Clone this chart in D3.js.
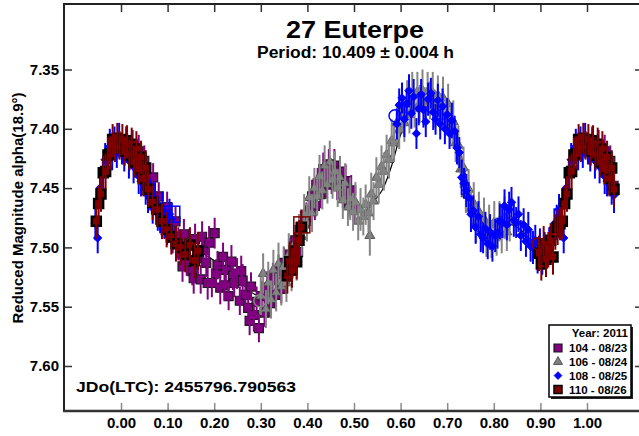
<!DOCTYPE html>
<html>
<head>
<meta charset="utf-8">
<script src="https://cdn.jsdelivr.net/npm/d3@7"></script>
<style>
  html, body { margin: 0; padding: 0; background: #fff; }
  svg { display: block; }
  text { font-family: "Liberation Sans", Arial, sans-serif; font-weight: bold; fill: #000; }
</style>
</head>
<body>
<svg id="chart" width="639" height="436"></svg>
<script>
// ---- chart text ----
const titleText = "27 Euterpe";
const periodText = "Period: 10.409 \u00b1 0.004 h";
const epochText = "JDo(LTC): 2455796.790563";
const yLabelText = "Reduced Magnitude alpha(18.9\u00b0)";
const legendTitle = "Year: 2011";

// ---- axis ticks ----
const xTicks = [0.0, 0.1, 0.2, 0.3, 0.4, 0.5, 0.6, 0.7, 0.8, 0.9, 1.0];
const yTicks = [7.35, 7.40, 7.45, 7.50, 7.55, 7.60];

// ---- sessions ----
const sessionIds = ["104", "106", "108", "110"];
const sessionLabels = ["104 - 08/23", "106 - 08/24", "108 - 08/25", "110 - 08/26"];

// observations: [phase, reduced magnitude, error]
const obs104 = [
  [0.004,7.418,0.012],[0.011,7.410,0.012],[0.018,7.423,0.012],[0.025,7.414,0.013],
  [0.031,7.429,0.012],[0.038,7.419,0.014],[0.044,7.436,0.012],[0.050,7.427,0.013],
  [0.057,7.448,0.012],[0.063,7.455,0.014],[0.069,7.441,0.012],[0.075,7.468,0.013],
  [0.081,7.457,0.012],[0.087,7.476,0.014],[0.093,7.481,0.012],[0.099,7.466,0.013],
  [0.105,7.483,0.012],[0.111,7.492,0.013],[0.117,7.478,0.012],[0.123,7.497,0.014],
  [0.129,7.505,0.012],[0.132,7.516,0.013],[0.135,7.489,0.013],[0.141,7.512,0.012],
  [0.147,7.498,0.014],[0.153,7.520,0.012],[0.156,7.526,0.013],[0.159,7.493,0.013],
  [0.165,7.509,0.014],[0.171,7.527,0.012],[0.174,7.491,0.013],[0.177,7.502,0.013],
  [0.183,7.513,0.012],[0.186,7.530,0.014],[0.189,7.496,0.014],[0.195,7.530,0.012],
  [0.201,7.488,0.013],[0.204,7.522,0.012],[0.207,7.515,0.012],[0.213,7.534,0.014],
  [0.219,7.508,0.012],[0.222,7.532,0.013],[0.225,7.519,0.013],[0.231,7.541,0.012],
  [0.237,7.512,0.014],[0.240,7.524,0.012],[0.243,7.530,0.012],[0.249,7.522,0.013],
  [0.255,7.545,0.012],[0.258,7.520,0.013],[0.261,7.528,0.014],[0.267,7.540,0.012],
  [0.273,7.551,0.013],[0.276,7.562,0.012],[0.279,7.533,0.012],[0.285,7.557,0.014],
  [0.291,7.546,0.013],[0.296,7.568,0.012],[0.302,7.541,0.013],[0.308,7.555,0.012],
  [0.314,7.534,0.014],[0.320,7.547,0.012],[0.326,7.526,0.013],[0.332,7.540,0.012],
  [0.338,7.520,0.014],[0.344,7.535,0.012],[0.350,7.513,0.013],[0.356,7.523,0.012],
  [0.362,7.506,0.014],[0.368,7.514,0.012],[0.374,7.494,0.013],[0.380,7.504,0.012],
  [0.386,7.483,0.014],[0.392,7.480,0.012],[0.398,7.475,0.013],[0.404,7.469,0.012],
  [0.410,7.457,0.014],[0.416,7.465,0.012],[0.422,7.446,0.013],[0.428,7.455,0.012],
  [0.434,7.434,0.014],[0.440,7.447,0.012],[0.446,7.430,0.013],[0.452,7.443,0.012],
  [0.458,7.431,0.014],[0.464,7.448,0.012],[0.470,7.436,0.013],[0.476,7.455,0.012],
  [0.482,7.444,0.014],[0.488,7.463,0.012],[0.494,7.452,0.013],[0.500,7.468,0.012]
];

const obs106 = [
  [0.300,7.541,0.016],[0.305,7.522,0.017],[0.311,7.552,0.016],[0.316,7.530,0.018],
  [0.322,7.544,0.016],[0.327,7.519,0.017],[0.333,7.538,0.016],[0.338,7.514,0.018],
  [0.344,7.533,0.016],[0.349,7.516,0.017],[0.355,7.530,0.016],[0.360,7.506,0.018],
  [0.366,7.521,0.016],[0.371,7.498,0.017],[0.377,7.512,0.016],[0.382,7.490,0.018],
  [0.388,7.491,0.016],[0.393,7.472,0.017],[0.399,7.479,0.016],[0.404,7.458,0.018],
  [0.410,7.471,0.016],[0.415,7.450,0.017],[0.421,7.457,0.016],[0.426,7.440,0.018],
  [0.432,7.452,0.016],[0.437,7.431,0.017],[0.443,7.447,0.016],[0.448,7.428,0.018],
  [0.454,7.443,0.016],[0.459,7.436,0.017],[0.465,7.450,0.016],[0.470,7.441,0.018],
  [0.476,7.460,0.016],[0.481,7.446,0.017],[0.487,7.466,0.016],[0.492,7.459,0.018],
  [0.498,7.470,0.016],[0.503,7.462,0.017],[0.509,7.478,0.016],[0.514,7.468,0.018],
  [0.520,7.474,0.016],[0.525,7.464,0.017],[0.531,7.471,0.016],[0.534,7.490,0.017],
  [0.537,7.455,0.018],[0.542,7.461,0.016],[0.548,7.441,0.017],[0.553,7.447,0.016],
  [0.559,7.432,0.018],[0.564,7.436,0.016],[0.570,7.422,0.017],[0.575,7.426,0.016],
  [0.581,7.410,0.018],[0.586,7.412,0.016],[0.592,7.395,0.017],[0.597,7.401,0.016],
  [0.603,7.384,0.018],[0.608,7.395,0.016],[0.614,7.376,0.017],[0.619,7.388,0.016],
  [0.625,7.370,0.018],[0.630,7.383,0.016],[0.636,7.369,0.017],[0.641,7.379,0.016],
  [0.647,7.368,0.018],[0.652,7.381,0.016],[0.658,7.369,0.017],[0.663,7.376,0.016],
  [0.669,7.370,0.018],[0.674,7.383,0.016],[0.680,7.372,0.017],[0.685,7.386,0.016],
  [0.691,7.374,0.018],[0.696,7.390,0.016],[0.702,7.379,0.017],[0.707,7.397,0.016],
  [0.713,7.394,0.018],[0.718,7.412,0.016],[0.724,7.414,0.017],[0.729,7.434,0.016],
  [0.735,7.433,0.018],[0.740,7.455,0.016],[0.746,7.451,0.017],[0.751,7.467,0.016],
  [0.757,7.463,0.018],[0.762,7.480,0.016],[0.768,7.470,0.017],[0.773,7.486,0.016],
  [0.779,7.476,0.018],[0.784,7.492,0.016],[0.790,7.481,0.017],[0.795,7.493,0.016],
  [0.801,7.479,0.018],[0.806,7.491,0.016],[0.812,7.478,0.017],[0.817,7.489,0.016],
  [0.823,7.475,0.018],[0.828,7.487,0.016],[0.834,7.478,0.017]
];

const obs108 = [
  [0.592,7.396,0.013],[0.597,7.380,0.014],[0.603,7.374,0.013],[0.608,7.392,0.015],
  [0.613,7.379,0.013],[0.618,7.368,0.014],[0.623,7.387,0.013],[0.628,7.373,0.015],
  [0.634,7.404,0.013],[0.639,7.383,0.014],[0.644,7.371,0.013],[0.649,7.384,0.015],
  [0.654,7.394,0.013],[0.659,7.375,0.014],[0.665,7.370,0.013],[0.670,7.386,0.015],
  [0.675,7.392,0.013],[0.680,7.376,0.014],[0.685,7.396,0.013],[0.690,7.381,0.015],
  [0.695,7.400,0.013],[0.700,7.388,0.014],[0.705,7.404,0.013],[0.710,7.393,0.015],
  [0.716,7.402,0.013],[0.721,7.416,0.014],[0.726,7.420,0.013],[0.731,7.441,0.015],
  [0.736,7.446,0.013],[0.741,7.452,0.014],[0.746,7.458,0.013],[0.751,7.472,0.015],
  [0.756,7.469,0.013],[0.761,7.483,0.014],[0.767,7.474,0.013],[0.772,7.489,0.015],
  [0.777,7.492,0.013],[0.782,7.484,0.014],[0.787,7.497,0.013],[0.792,7.487,0.015],
  [0.797,7.499,0.013],[0.803,7.490,0.014],[0.808,7.488,0.013],[0.813,7.478,0.015],
  [0.818,7.479,0.013],[0.823,7.465,0.014],[0.828,7.481,0.013],[0.833,7.468,0.015],
  [0.838,7.462,0.013],[0.843,7.477,0.014],[0.848,7.479,0.013],[0.853,7.472,0.015],
  [0.858,7.490,0.013],[0.864,7.481,0.014],[0.869,7.495,0.013],[0.874,7.485,0.015],
  [0.879,7.499,0.013],[0.884,7.500,0.014],[0.889,7.494,0.013],[0.894,7.507,0.015],
  [0.899,7.497,0.013],[0.904,7.509,0.014],[0.909,7.500,0.013],[0.914,7.505,0.013],
  [0.919,7.496,0.013],[0.925,7.493,0.014],[0.930,7.480,0.013],[0.935,7.479,0.015],
  [0.940,7.468,0.013],[0.945,7.480,0.014],[0.950,7.492,0.013],[0.955,7.450,0.015],
  [0.961,7.439,0.013],[0.966,7.426,0.014],[0.971,7.427,0.013],[0.976,7.415,0.015],
  [0.981,7.422,0.013],[0.986,7.412,0.014],[0.991,7.420,0.013],[0.996,7.410,0.015],
  [0.002,7.417,0.013],[0.007,7.422,0.014],[0.012,7.413,0.013],[0.017,7.427,0.015],
  [0.022,7.418,0.013],[0.027,7.432,0.014],[0.033,7.428,0.013],[0.038,7.440,0.015],
  [0.043,7.444,0.013],[0.048,7.437,0.014],[0.053,7.451,0.013],[0.058,7.456,0.015],
  [0.063,7.455,0.013],[0.068,7.466,0.014],[0.073,7.458,0.013],[0.079,7.471,0.015],
  [0.084,7.475,0.013],[0.089,7.467,0.014],[0.094,7.479,0.013],[0.099,7.483,0.015],
  [0.104,7.472,0.013],[0.109,7.476,0.014]
];

const obs110 = [
  [0.897,7.505,0.015],[0.902,7.514,0.014],[0.907,7.497,0.015],[0.912,7.510,0.015],
  [0.917,7.502,0.015],[0.922,7.494,0.014],[0.927,7.508,0.015],[0.932,7.487,0.015],
  [0.937,7.483,0.015],[0.942,7.480,0.014],[0.947,7.478,0.015],[0.952,7.463,0.015],
  [0.957,7.455,0.015],[0.962,7.437,0.014],[0.967,7.436,0.015],[0.972,7.422,0.015],
  [0.977,7.421,0.013],[0.982,7.409,0.013],[0.987,7.416,0.012],[0.992,7.408,0.013],
  [0.997,7.414,0.012],[0.003,7.409,0.013],[0.008,7.419,0.012],[0.013,7.410,0.013],
  [0.018,7.422,0.013],[0.023,7.413,0.014],[0.028,7.428,0.013],[0.033,7.417,0.015],
  [0.038,7.434,0.013],[0.043,7.424,0.014],[0.048,7.442,0.015],[0.053,7.433,0.015],
  [0.058,7.451,0.015],[0.068,7.462,0.015],[0.078,7.468,0.015],[0.088,7.478,0.015],
  [0.098,7.485,0.015],[0.108,7.491,0.015],[0.118,7.497,0.015],[0.128,7.500,0.015],
  [0.138,7.506,0.015],[0.148,7.498,0.015],[0.158,7.511,0.015],[0.165,7.503,0.016],
  [0.357,7.524,0.015],[0.362,7.512,0.017],[0.367,7.519,0.015],[0.372,7.503,0.016],
  [0.377,7.512,0.015],[0.382,7.494,0.017],[0.387,7.483,0.015]
];

// first and last observation of a night, marked with open symbols
const nightMarks = [
  ["106", "first", 0.298, 7.545],
  ["108", "first", 0.588, 7.389],
  ["108", "last", 0.109, 7.472],
  ["110", "first", 0.895, 7.497],
  ["110", "last", 0.388, 7.481]
];

// Fourier fit of the composite lightcurve: phase and magnitude
const fitPhase = [0.00,0.02,0.04,0.06,0.08,0.10,0.12,0.14,0.16,0.18,0.20,0.22,0.24,0.26,0.28,0.30,0.32,0.34,0.36,0.38,0.40,0.42,0.44,0.46,0.48,0.50,0.52,0.54,0.56,0.58,0.60,0.62,0.64,0.66,0.68,0.70,0.72,0.74,0.76,0.78,0.80,0.82,0.84,0.86,0.88,0.90,0.92,0.94,0.96,0.98];
const fitMag = [7.411,7.416,7.425,7.440,7.459,7.475,7.487,7.495,7.501,7.506,7.511,7.516,7.523,7.531,7.538,7.541,7.535,7.526,7.515,7.500,7.477,7.456,7.442,7.438,7.449,7.463,7.470,7.462,7.452,7.432,7.405,7.387,7.378,7.375,7.378,7.386,7.405,7.440,7.466,7.481,7.486,7.482,7.481,7.486,7.494,7.500,7.497,7.474,7.445,7.420];

// ---- styling per night ----
const nightStyle = {
  "104": { color: "#800080", shape: "square", fill: "#800080", stroke: "#1a1a1a", sw: 1.2, size: 9 },
  "106": { color: "#858585", shape: "triangle", fill: "#808080", stroke: "#3c3c3c", sw: 0.8, size: 10 },
  "108": { color: "#0000ff", shape: "diamond", fill: "#0000ff", stroke: "#0000ff", sw: 0.8, size: 6 },
  "110": { color: "#800000", shape: "square", fill: "#800000", stroke: "#000000", sw: 2.5, size: 9 }
};
const observations = { "104": obs104, "106": obs106, "108": obs108, "110": obs110 };

// ---- geometry ----
const frame = { left: 64, top: 4, right: 643, bottom: 411 };
const x = d3.scaleLinear().domain([0, 1]).range([121, 587]);
const y = d3.scaleLinear().domain([7.35, 7.60]).range([69.5, 366]);

const svg = d3.select("#chart");
svg.append("rect").attr("width", 639).attr("height", 436).attr("fill", "#fff");

svg.append("defs").append("clipPath").attr("id", "plotClip")
  .append("rect")
  .attr("x", frame.left).attr("y", frame.top)
  .attr("width", frame.right - frame.left).attr("height", frame.bottom - frame.top);

// repeat the ends of the cycle on either side of phase 0..1
function folded(rows) {
  const out = [];
  rows.forEach(r => {
    out.push(r);
    if (r[0] < 0.06) out.push([r[0] + 1, ...r.slice(1)]);
    if (r[0] > 0.944) out.push([r[0] - 1, ...r.slice(1)]);
  });
  return out;
}

function symbolPath(shape, size) {
  if (shape === "triangle") return d3.symbol(d3.symbolTriangle, Math.sqrt(3) / 4 * size * size)();
  return d3.symbol(d3.symbolSquare, size * size)();
}
function symbolTransform(shape, px, py) {
  return shape === "diamond" ? `translate(${px},${py}) rotate(45)` : `translate(${px},${py})`;
}

const plot = svg.append("g").attr("clip-path", "url(#plotClip)");

// fit curve under the data
const fitRows = folded(fitPhase.map((p, i) => [p, fitMag[i]]))
  .filter(r => r[0] >= -0.06 && r[0] <= 1.06)
  .sort((a, b) => a[0] - b[0]);
plot.append("path")
  .attr("d", d3.line().x(d => x(d[0])).y(d => y(d[1])).curve(d3.curveCatmullRom)(fitRows))
  .attr("fill", "none").attr("stroke", "#000").attr("stroke-width", 1.2);

// observations, night by night
sessionIds.forEach(id => {
  const st = nightStyle[id];
  const rows = folded(observations[id]);
  const g = plot.append("g");
  g.selectAll("path.mark").data(rows).enter().append("path")
    .attr("class", "mark")
    .attr("d", symbolPath(st.shape, st.size))
    .attr("transform", d => symbolTransform(st.shape, x(d[0]), y(d[1])))
    .attr("fill", st.fill).attr("stroke", st.stroke).attr("stroke-width", st.sw);
  g.selectAll("line.err").data(rows).enter().append("line")
    .attr("class", "err")
    .attr("x1", d => x(d[0])).attr("x2", d => x(d[0]))
    .attr("y1", d => y(d[1] - d[2])).attr("y2", d => y(d[1] + d[2]))
    .attr("stroke", st.color).attr("stroke-width", 2);
  nightMarks.filter(m => m[0] === id).forEach(m => {
    if (m[1] === "first") {
      g.append("circle").attr("cx", x(m[2])).attr("cy", y(m[3])).attr("r", 6)
        .attr("fill", "none").attr("stroke", st.color).attr("stroke-width", 1.5);
    } else {
      g.append("rect").attr("x", x(m[2]) - 8).attr("y", y(m[3]) - 8)
        .attr("width", 16).attr("height", 16)
        .attr("fill", "none").attr("stroke", st.color).attr("stroke-width", 1.5);
    }
  });
});

// ---- axes (ticks point inward) ----
const fmt = d3.format(".2f");
const bottomAxis = svg.append("g").attr("transform", `translate(0,${frame.bottom})`)
  .call(d3.axisBottom(x).tickValues(xTicks).tickSize(-8).tickPadding(6).tickFormat(fmt));
const topAxis = svg.append("g").attr("transform", `translate(0,${frame.top})`)
  .call(d3.axisTop(x).tickValues(xTicks).tickSize(-8).tickFormat(""));
const leftAxis = svg.append("g").attr("transform", `translate(${frame.left},0)`)
  .call(d3.axisLeft(y).tickValues(yTicks).tickSize(-8).tickPadding(5).tickFormat(fmt));
const rightAxis = svg.append("g").attr("transform", `translate(${frame.right},0)`)
  .call(d3.axisRight(y).tickValues(yTicks).tickSize(-8).tickFormat(""));

[bottomAxis, topAxis, leftAxis, rightAxis].forEach(a => {
  a.select(".domain").remove();
  a.selectAll("text").attr("font-size", 15).attr("font-family", null).attr("fill", "#000");
});
bottomAxis.selectAll(".tick line").attr("stroke", "#8a8a8a").attr("stroke-width", 1.5);
topAxis.selectAll(".tick line").attr("stroke", "#333").attr("stroke-width", 1.5);
leftAxis.selectAll(".tick line").attr("stroke", "#333").attr("stroke-width", 1.5);
rightAxis.selectAll(".tick line").attr("stroke", "#333").attr("stroke-width", 1.5);

// frame lines
svg.append("line").attr("x1", frame.left).attr("x2", frame.right).attr("y1", frame.top).attr("y2", frame.top)
  .attr("stroke", "#222").attr("stroke-width", 2);
svg.append("line").attr("x1", frame.left).attr("x2", frame.left).attr("y1", frame.top - 1).attr("y2", frame.bottom + 1)
  .attr("stroke", "#222").attr("stroke-width", 2);
svg.append("line").attr("x1", frame.left - 1).attr("x2", frame.right).attr("y1", frame.bottom).attr("y2", frame.bottom)
  .attr("stroke", "#333").attr("stroke-width", 2.5);

// ---- titles and labels ----
svg.append("text").attr("x", 286).attr("y", 38).attr("font-size", 23)
  .attr("textLength", 138).attr("lengthAdjust", "spacingAndGlyphs").text(titleText);
svg.append("text").attr("x", 257).attr("y", 58).attr("font-size", 16)
  .attr("textLength", 197).attr("lengthAdjust", "spacingAndGlyphs").text(periodText);
svg.append("text").attr("x", 76).attr("y", 392).attr("font-size", 15)
  .attr("textLength", 220).attr("lengthAdjust", "spacingAndGlyphs").text(epochText);
svg.append("text").attr("transform", "translate(23,208) rotate(-90)")
  .attr("text-anchor", "middle").attr("font-size", 15).text(yLabelText);

// ---- legend ----
const lg = svg.append("g");
const lx = 549, ly = 325, lw = 82, lh = 72;
lg.append("rect").attr("x", lx + 2).attr("y", ly + 2).attr("width", lw).attr("height", lh).attr("fill", "#222");
lg.append("rect").attr("x", lx).attr("y", ly).attr("width", lw).attr("height", lh)
  .attr("fill", "#fff").attr("stroke", "#000").attr("stroke-width", 1.5);
lg.append("text").attr("x", lx + lw - 3).attr("y", ly + 12).attr("text-anchor", "end")
  .attr("font-size", 11.5).text(legendTitle);
sessionIds.forEach((id, i) => {
  const st = nightStyle[id];
  const cy = ly + 23 + i * 13.8;
  const legendSize = st.shape === "diamond" ? 5.5 : (st.shape === "triangle" ? 9 : 8);
  lg.append("path").attr("d", symbolPath(st.shape, legendSize))
    .attr("transform", symbolTransform(st.shape, lx + 9, cy))
    .attr("fill", st.fill).attr("stroke", st.stroke).attr("stroke-width", Math.min(st.sw, 1.5));
  lg.append("text").attr("x", lx + 20).attr("y", cy + 4.2).attr("font-size", 11.5).text(sessionLabels[i]);
});
</script>
</body>
</html>
